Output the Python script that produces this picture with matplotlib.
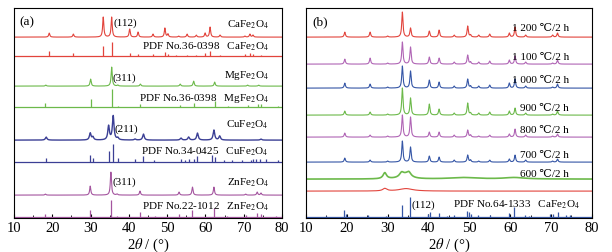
import numpy as np
import matplotlib
matplotlib.use("Agg")
import matplotlib.pyplot as plt
from matplotlib.ticker import MultipleLocator

plt.rcParams['font.family'] = ['Liberation Serif', 'DejaVu Serif']
plt.rcParams['mathtext.fontset'] = 'stix'

RED = '#e2443c'
GREEN = '#6cb94a'
BLUE = '#3b3f95'
PURPLE = '#a4559f'
BLUE2 = '#3556a6'
PURPLE2 = '#b065b5'

# ---------------- panel (a) data: (2theta, height) ----------------
ca_exp_pos = [19.2, 25.5, 33.3, 35.5, 40.2, 42.4, 46.3, 49.4, 50.2, 53.0, 55.2, 57.6, 59.9, 61.2, 63.8, 70.3, 71.6, 72.4]
ca_exp_h   = [4, 3, 20, 20, 8, 5, 3, 9, 3, 1, 3, 2, 4, 10, 2, 1, 3, 2]
ca_pdf_pos = [19.2, 25.5, 33.3, 35.5, 40.2, 42.4, 46.3, 49.4, 50.2, 52.4, 55.2, 57.6, 59.9, 61.2, 63.8, 70.3, 71.6, 72.4, 74.6]
ca_pdf_h   = [5, 3, 10, 14, 3, 2, 2, 4, 2, 1, 1, 1, 3, 5, 1, 2, 3, 2, 1]

mg_exp_pos = [18.3, 30.0, 35.5, 37.1, 43.0, 53.4, 56.9, 62.4, 71.0, 73.9]
mg_exp_h   = [1, 7, 19, 1, 2, 2, 5, 4, 1, 1]
mg_pdf_pos = [18.2, 30.0, 35.5, 37.1, 43.0, 53.4, 56.9, 62.4, 65.8, 71.0, 73.7, 74.6, 79.0]
mg_pdf_h   = [4, 8, 18, 1, 3, 2, 4, 6, 1, 2, 3, 3, 1]

cu_exp_pos = [18.4, 29.9, 30.6, 34.7, 35.9, 37.1, 41.6, 43.8, 53.6, 55.6, 57.9, 62.2, 63.7, 74.5]
cu_exp_h   = [3, 7, 3, 14, 24, 2, 1, 6, 2, 3, 7, 10, 4, 1]
cu_pdf_pos = [18.4, 29.9, 30.6, 34.7, 35.9, 37.1, 41.6, 43.8, 46.5, 53.6, 54.6, 55.6, 57.1, 57.9,
              61.8, 62.6, 64.8, 67.0, 69.5, 71.8, 72.4, 73.3, 74.3, 75.8, 79.0]
cu_pdf_h   = [4, 7, 4, 11, 18, 4, 3, 6, 2, 3, 2, 3, 3, 6, 7, 5, 2, 2, 2, 2, 3, 3, 3, 3, 2]

zn_exp_pos = [18.2, 29.9, 35.3, 36.9, 42.9, 53.1, 56.6, 62.2, 70.5, 73.5, 74.5]
zn_exp_h   = [1, 9, 23, 1, 4, 3, 8, 8, 1, 3, 2]
zn_pdf_pos = [18.2, 29.9, 35.3, 36.9, 42.9, 46.9, 53.1, 56.6, 62.2, 65.5, 70.5, 73.5, 74.5, 78.5]
zn_pdf_h   = [3, 7, 17, 1, 5, 1, 3, 7, 9, 1, 2, 4, 3, 1]

# ---------------- panel (b) data ----------------
cf_pos = [19.5, 25.7, 30.0, 33.6, 35.6, 40.2, 42.6, 46.3, 49.6, 50.3, 52.3, 55.0, 59.8, 61.2, 63.8, 70.4, 71.6]
h1200 = [5, 5, 1, 25, 9, 6, 7, 2, 11, 2, 2, 3, 4, 10, 2, 2, 4]
h1100 = [5, 6, 1, 22, 17, 7, 6, 2, 9, 2, 2, 3, 4, 8, 2, 1, 4]
h1000 = [5, 4, 1, 22, 17, 8, 6, 2, 9, 2, 2, 3, 5, 9, 2, 1, 4]
h900  = [4, 3, 1, 27, 17, 11, 6, 2, 12, 2, 2, 3, 4, 7, 2, 1, 4]
h800  = [4, 2, 1, 22, 20, 5, 5, 2, 7, 2, 1, 2, 3, 8, 2, 1, 3]
h700  = [4, 2, 1, 21, 15, 6, 5, 2, 7, 2, 1, 2, 3, 7, 2, 1, 3]
# 600 C: broad amorphous-like humps (pos, height, width)
p600_pos = [29.3, 33.4, 34.4, 35.2, 48.5, 61.0]
p600_h   = [6, 4, 4, 4, 1.5, 1.5]
p600_w   = [0.5, 0.6, 1.5, 0.6, 4.0, 3.0]
pamo_pos = [29.3, 34.5]
pamo_h   = [2.5, 2.5]
pamo_w   = [0.6, 2.0]
pdf64_pos = [14.8, 19.3, 19.8, 25.3, 29.5, 33.5, 35.5, 39.8, 40.3, 42.5, 44.5, 46.3, 49.4, 50.0,
             50.4, 52.2, 55.0, 59.8, 61.0, 63.7, 64.5, 69.8, 70.4, 71.6, 73.6, 74.7]
pdf64_h   = [1, 7, 3, 2, 1, 12, 20, 3, 5, 4, 1, 2, 6, 5, 3, 2, 2, 4, 10, 2, 1, 3, 3, 5, 2, 2]

x = np.linspace(10, 80, 4000)


def profile(pos, h, w=0.18):
    if np.isscalar(w):
        w = [w] * len(pos)
    y = np.zeros_like(x)
    for p, hh, ww in zip(pos, h, w):
        y += hh / (1 + ((x - p) / ww) ** 2)
    return y


def setup(ax):
    ax.set_xlim(10, 80)
    ax.set_ylim(0, 210)
    ax.set_yticks([])
    ax.xaxis.set_major_locator(MultipleLocator(10))
    ax.xaxis.set_minor_locator(MultipleLocator(5))
    ax.tick_params(axis='x', which='both', direction='in', labelsize=10.5, pad=2)
    ax.tick_params(axis='x', which='major', length=3)
    ax.tick_params(axis='x', which='minor', length=2)
    ax.tick_params(top=False)
    for s in ax.spines.values():
        s.set_linewidth(0.8)
    ax.set_xlabel(r'2$\it{\theta}$ / (°)', fontsize=10.5, labelpad=1)


def exp_line(ax, base, pos, h, color, w=0.18, lw=0.8):
    ax.plot(x, base + profile(pos, h, w), color=color, lw=lw)


def pdf_lines(ax, base, pos, h, color):
    ax.axhline(base, color=color, lw=0.9)
    ax.vlines(pos, base, [base + v for v in h], color=color, lw=0.9)


fig = plt.figure(figsize=(6.12, 2.53), dpi=100)
axa = fig.add_axes([0.0229, 0.134, 0.438, 0.830])
axb = fig.add_axes([0.5, 0.134, 0.467, 0.830])
setup(axa)
setup(axb)

# ---- panel (a) ----
exp_line(axa, 181, ca_exp_pos, ca_exp_h, RED)
pdf_lines(axa, 162, ca_pdf_pos, ca_pdf_h, RED)
exp_line(axa, 132, mg_exp_pos, mg_exp_h, GREEN)
pdf_lines(axa, 111, mg_pdf_pos, mg_pdf_h, GREEN)
exp_line(axa, 78, cu_exp_pos, cu_exp_h, BLUE, w=0.25, lw=1.0)
pdf_lines(axa, 56, cu_pdf_pos, cu_pdf_h, BLUE)
exp_line(axa, 23, zn_exp_pos, zn_exp_h, PURPLE)
pdf_lines(axa, 0.6, zn_pdf_pos, zn_pdf_h, PURPLE)

fs = 8
tx = 76.5
axa.text(11.5, 197, '(a)', fontsize=9.5, va='center')
axa.text(36.0, 196, '(112)', fontsize=fs, va='center')
axa.text(tx, 194, r'CaFe$_2$O$_4$', fontsize=fs, va='center', ha='right')
axa.text(tx, 172, r'PDF No.36-0398   CaFe$_2$O$_4$', fontsize=fs, va='center', ha='right')
axa.text(35.8, 141, '(311)', fontsize=fs, va='center')
axa.text(tx, 144, r'MgFe$_2$O$_4$', fontsize=fs, va='center', ha='right')
axa.text(tx, 121, r'PDF No.36-0398   MgFe$_2$O$_4$', fontsize=fs, va='center', ha='right')
axa.text(36.3, 90, '(211)', fontsize=fs, va='center')
axa.text(tx, 94, r'CuFe$_2$O$_4$', fontsize=fs, va='center', ha='right')
axa.text(tx, 67, r'PDF No.34-0425   CuFe$_2$O$_4$', fontsize=fs, va='center', ha='right')
axa.text(35.6, 37, '(311)', fontsize=fs, va='center')
axa.text(tx, 36, r'ZnFe$_2$O$_4$', fontsize=fs, va='center', ha='right')
axa.text(tx, 12, r'PDF No.22-1012   ZnFe$_2$O$_4$', fontsize=fs, va='center', ha='right')

# ---- panel (b) ----
exp_line(axb, 181, cf_pos, h1200, RED)
exp_line(axb, 154, cf_pos, h1100, PURPLE2)
exp_line(axb, 130, cf_pos, h1000, BLUE2)
exp_line(axb, 103, cf_pos, h900, GREEN)
exp_line(axb, 81, cf_pos, h800, PURPLE2)
exp_line(axb, 56, cf_pos, h700, BLUE2)
exp_line(axb, 39, p600_pos, p600_h, GREEN, w=p600_w, lw=1.2)
exp_line(axb, 27, pamo_pos, pamo_h, RED, w=pamo_w)
pdf_lines(axb, 0.6, pdf64_pos, pdf64_h, BLUE2)

bx = 74.4
fam = ['Liberation Serif', 'DejaVu Serif']
for yy, lab in [(191, '1 200 ℃/2 h'), (162, '1 100 ℃/2 h'), (139, '1 000 ℃/2 h'),
                (111, '900 ℃/2 h'), (89, '800 ℃/2 h'), (64, '700 ℃/2 h'), (45, '600 ℃/2 h')]:
    axb.text(bx, yy, lab, fontsize=fs, va='center', ha='right', family=fam)
axb.text(11.5, 197, '(b)', fontsize=9.5, va='center')
axb.text(35.9, 14, '(112)', fontsize=fs, va='center')
axb.text(77.0, 14, r'PDF No.64-1333   CaFe$_2$O$_4$', fontsize=fs, va='center', ha='right')

fig.savefig('out.png', dpi=100)
